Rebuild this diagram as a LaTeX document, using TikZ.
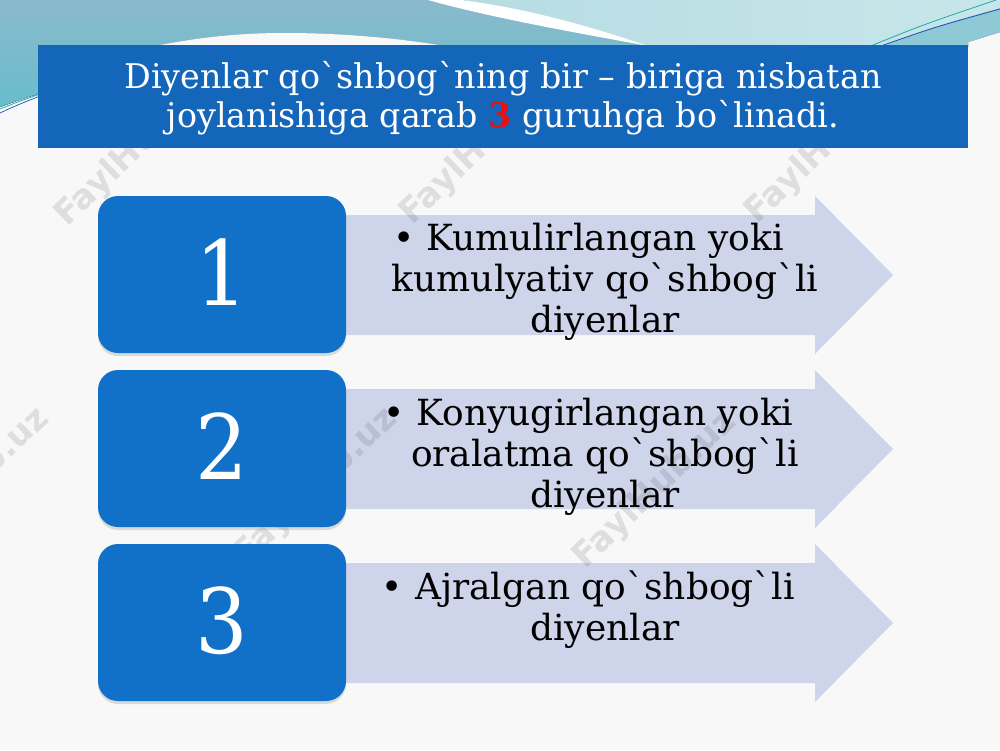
\documentclass[tikz,border=0pt]{standalone}
\usepackage{fontspec}
\setmainfont{DejaVu Serif}[Ligatures=TeXOff]
\newfontfamily\titlefont{DejaVu Serif}[Ligatures=TeXOff,FakeStretch=0.98]
\newfontfamily\numfont{DejaVu Serif}[FakeStretch=0.92]
\newfontfamily\wmfont{DejaVu Sans}
\usetikzlibrary{shadows}
\definecolor{bgc}{RGB}{248,248,248}
\definecolor{bannerblue}{RGB}{20,102,186}
\definecolor{boxblue}{RGB}{17,112,200}
\definecolor{arrowc}{RGB}{206,213,234}
\definecolor{tealA}{RGB}{138,186,204}
\definecolor{tealB}{RGB}{104,188,204}
\definecolor{cyanA}{RGB}{166,212,220}
\definecolor{cyanB}{RGB}{200,230,234}
\definecolor{tealband}{RGB}{120,190,206}
\definecolor{lineteal}{RGB}{30,170,170}
\definecolor{lineblue}{RGB}{30,80,180}
\definecolor{numred}{RGB}{232,16,16}
\begin{document}
\begin{tikzpicture}[x=1pt,y=-1pt,
  numbox/.style={fill=boxblue, rounded corners=20pt, minimum width=248pt, minimum height=157pt,
    inner sep=0pt, text=white, font=\numfont\fontsize{90}{90}\selectfont,
    drop shadow={shadow xshift=0pt, shadow yshift=-3pt, opacity=0.25}},
  arrowtext/.style={align=center, anchor=base, font=\fontsize{36}{41}\selectfont, text=black, inner sep=0pt},
  wm/.style={rotate=44, text=black, opacity=0.10, font=\wmfont\bfseries\fontsize{34}{34}\selectfont, inner sep=0pt},
  arrowfill/.style={fill=arrowc}
]
\fill[bgc] (0,0) rectangle (1000,750);
\useasboundingbox (0,0) rectangle (1000,750);
% top decoration
\fill[left color=cyanA, right color=cyanB] (0,0) -- (1000,0) -- (1000,32) -- (968,42) -- (968,47) -- (38,47) -- (38,94) .. controls (22,99) .. (0,107) -- cycle;
\fill[top color=tealA, bottom color=tealB] (0,0) -- (460,0) .. controls (530,10) and (590,28) .. (650,47) -- (38,47) -- (38,94) .. controls (22,99) .. (0,107) -- cycle;
\fill[bgc] (150,47) .. controls (200,37) and (240,33) .. (285,33) .. controls (340,33) and (400,38) .. (450,47) -- cycle;
\fill[white] (462,0) .. controls (530,9) and (592,27) .. (648,46) .. controls (590,35) and (500,20) .. (428,0) -- cycle;
\fill[tealband, opacity=0.7] (880,47) .. controls (930,28) .. (1000,8) -- (1000,32) -- (968,42) -- (968,47) -- cycle;
\draw[lineteal, line width=0.8pt] (868,47) .. controls (925,24) .. (996,0);
\draw[lineblue, line width=0.8pt] (878,47) .. controls (935,27) .. (1000,9);
\draw[lineblue, line width=0.7pt] (0,113) .. controls (15,106) .. (40,96);
\draw[lineteal, line width=0.7pt] (0,109) .. controls (15,103) .. (40,94);
% arrows
\foreach \t in {196,370,544}{
  \fill[arrowfill] (330,\t+19) -- (815,\t+19) -- (815,\t) -- (893,\t+79) -- (815,\t+158) -- (815,\t+139) -- (330,\t+139) -- cycle;
}
% watermarks
\node[wm] (w1) at (137,148) {FaylHub.uz};
\node[wm] (w2) at (482,146) {FaylHub.uz};
\node[wm] (w3) at (827,145) {FaylHub.uz};
\node[wm] (w4) at (-32,487) {FaylHub.uz};
\node[wm] (w5) at (316,487) {FaylHub.uz};
\node[wm] (w6) at (655,490) {FaylHub.uz};
% banner
\fill[bannerblue] (38,45) rectangle (968,148);
\node[align=center, anchor=base, text=white, inner sep=0pt, font=\titlefont\fontsize{34}{39}\selectfont] (title) at (503,127)
  {Diyenlar qo`shbog`ning bir – biriga nisbatan\\joylanishiga qarab \textcolor{numred}{\textbf{3}} guruhga bo`linadi.};
% number boxes
\node[numbox] (b1) at (222,274.5) {\raisebox{5pt}{1}};
\node[numbox] (b2) at (222,448.5) {\raisebox{5pt}{2}};
\node[numbox] (b3) at (222,622.5) {\raisebox{5pt}{3}};
% arrow texts
\node[arrowtext] (t1) at (605,332) {\llap{\textbullet\hspace{12pt}}Kumulirlangan yoki\\kumulyativ qo`shbog`li\\diyenlar};
\node[arrowtext] (t2) at (605,507) {\llap{\textbullet\hspace{12pt}}Konyugirlangan yoki\\oralatma qo`shbog`li\\diyenlar};
\node[arrowtext] (t3) at (605,640) {\llap{\textbullet\hspace{12pt}}Ajralgan qo`shbog`li\\diyenlar};
\end{tikzpicture}
\end{document}
